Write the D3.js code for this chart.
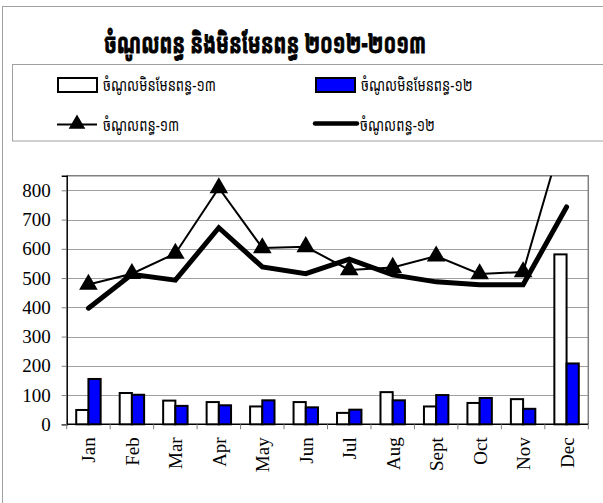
<!DOCTYPE html>
<html>
<head>
<meta charset="utf-8">
<script src="https://cdn.jsdelivr.net/npm/d3@7"></script>
<style>
  body { margin: 0; background: #fff; }
  svg { display: block; }
</style>
</head>
<body>
<div id="chart"></div>
<script>
// data
const months = ["Jan", "Feb", "Mar", "Apr", "May", "Jun", "Jul", "Aug", "Sept", "Oct", "Nov", "Dec"];
const nonTax13 = [49, 107, 81, 76, 61, 76, 39, 110, 61, 73, 86, 581];
const nonTax12 = [155, 101, 63, 65, 82, 58, 50, 82, 100, 90, 53, 208];
const tax13 = [478, 515, 584, 808, 603, 607, 528, 536, 575, 514, 521, 1030];
const tax12 = [397, 513, 493, 672, 538, 515, 565, 511, 487, 477, 477, 743];
const yTicks = [0, 100, 200, 300, 400, 500, 600, 700, 800];

const seriesNames = {
    nonTax13: "ចំណូលមិនមែនពន្ធ-១៣",
    nonTax12: "ចំណូលមិនមែនពន្ធ-១២",
    tax13: "ចំណូលពន្ធ-១៣",
    tax12: "ចំណូលពន្ធ-១២"
};
const title = "ចំណូលពន្ធ និងមិនមែនពន្ធ ២០១២-២០១៣";

const W = 603, H = 503;
const plot = { left: 66.7, right: 588.3, top: 175.7, bottom: 424.3 };
const khmerFont = "'Khmer OS Muol Light', 'Khmer OS', 'Noto Sans Khmer', 'Khmer Sangam MN', 'DejaVu Sans', sans-serif";
const serif = "'Liberation Serif', 'Times New Roman', serif";

const svg = d3.select("#chart").append("svg")
    .attr("width", W)
    .attr("height", H);

// outer frame (runs off the right and bottom edges)
svg.append("rect")
    .attr("x", 2.5).attr("y", 6.5)
    .attr("width", 700).attr("height", 600)
    .attr("fill", "#fff")
    .attr("stroke", "#a0a0a0");

// title - stretched taller like the original's heavy face
svg.append("text")
    .attr("transform", "translate(265,53) scale(1,1.4)")
    .attr("text-anchor", "middle")
    .attr("font-family", khmerFont)
    .attr("font-size", "19px")
    .attr("font-weight", "bold")
    .attr("stroke", "#000")
    .attr("stroke-width", 0.7)
    .text(title);

// legend box
const legend = svg.append("g");
legend.append("rect")
    .attr("x", 12.5).attr("y", 64.5)
    .attr("width", 700).attr("height", 76.5)
    .attr("fill", "#fff")
    .attr("stroke", "#a0a0a0");

legend.append("rect")
    .attr("x", 58).attr("y", 78)
    .attr("width", 39).attr("height", 14)
    .attr("fill", "#fff").attr("stroke", "#000").attr("stroke-width", 2);
legend.append("rect")
    .attr("x", 316).attr("y", 78)
    .attr("width", 39).attr("height", 14)
    .attr("fill", "#0000ff").attr("stroke", "#000").attr("stroke-width", 2);

legend.append("line")
    .attr("x1", 57).attr("x2", 97).attr("y1", 124.5).attr("y2", 124.5)
    .attr("stroke", "#000").attr("stroke-width", 2);
legend.append("path")
    .attr("transform", "translate(77,124)")
    .attr("d", d3.symbol(d3.symbolTriangle, 120)());
legend.append("line")
    .attr("x1", 315).attr("x2", 357).attr("y1", 123.5).attr("y2", 123.5)
    .attr("stroke", "#000").attr("stroke-width", 4.5).attr("stroke-linecap", "round");

const legendText = [
    { x: 103, y: 91, t: seriesNames.nonTax13 },
    { x: 361, y: 91, t: seriesNames.nonTax12 },
    { x: 103, y: 131, t: seriesNames.tax13 },
    { x: 360, y: 131, t: seriesNames.tax12 }
];
legend.selectAll(".lt")
    .data(legendText)
    .enter()
    .append("text")
    .attr("transform", d => `translate(${d.x},${d.y}) scale(1,1.3)`)
    .attr("font-family", khmerFont)
    .attr("font-size", "13px")
    .text(d => d.t);

// scales
const x = d3.scaleBand()
    .domain(months)
    .range([plot.left, plot.right])
    .paddingInner(0).paddingOuter(0);
const xSub = d3.scaleBand()
    .domain([0, 1])
    .range([0, x.bandwidth()])
    .paddingInner(0).paddingOuter(0.78);
const y = d3.scaleLinear()
    .domain([0, 850])
    .range([plot.bottom, plot.top]);

// gridlines
svg.append("g")
    .selectAll("line")
    .data(yTicks.slice(1))
    .enter()
    .append("line")
    .attr("x1", plot.left).attr("x2", plot.right)
    .attr("y1", d => Math.round(y(d)) + 0.5)
    .attr("y2", d => Math.round(y(d)) + 0.5)
    .attr("stroke", "#a0a0a0");

// plot area border (top + right)
svg.append("path")
    .attr("d", `M${plot.left},${plot.top}H${plot.right}V${plot.bottom}`)
    .attr("fill", "none")
    .attr("stroke", "#808080")
    .attr("stroke-width", 1.5);

// y axis
const yAxis = svg.append("g")
    .attr("transform", `translate(${plot.left},0)`)
    .call(d3.axisLeft(y).tickValues(yTicks).tickSize(5).tickPadding(11));
yAxis.attr("font-family", serif);
yAxis.select(".domain").attr("stroke", "#000").attr("stroke-width", 1.5);
yAxis.selectAll(".tick line").attr("stroke", "#808080");
yAxis.selectAll(".tick text")
    .style("font-family", serif)
    .attr("font-size", "19px")
    .attr("fill", "#000");

// x axis: ticks on the category boundaries
const xAxis = svg.append("g")
    .attr("transform", `translate(0,${plot.bottom})`);
xAxis.append("line")
    .attr("x1", plot.left).attr("x2", plot.right)
    .attr("y1", 0).attr("y2", 0)
    .attr("stroke", "#000").attr("stroke-width", 1.5);
xAxis.selectAll(".xt")
    .data(months.concat(["end"]))
    .enter()
    .append("line")
    .attr("x1", (d, i) => x.range()[0] + i * x.step())
    .attr("x2", (d, i) => x.range()[0] + i * x.step())
    .attr("y1", 0).attr("y2", 5)
    .attr("stroke", "#808080");
xAxis.selectAll(".xl")
    .data(months)
    .enter()
    .append("text")
    .attr("transform", d => `translate(${x(d) + x.bandwidth() / 2 + 7},13) rotate(-90)`)
    .attr("text-anchor", "end")
    .attr("font-family", serif)
    .attr("font-size", "19px")
    .text(d => d);

// bars
const bars = svg.append("g");
bars.selectAll(".b13")
    .data(nonTax13)
    .enter()
    .append("rect")
    .attr("x", (d, i) => x(months[i]) + xSub(0))
    .attr("y", d => y(d))
    .attr("width", xSub.bandwidth())
    .attr("height", d => plot.bottom - y(d))
    .attr("fill", "#fff")
    .attr("stroke", "#000")
    .attr("stroke-width", 2);
bars.selectAll(".b12")
    .data(nonTax12)
    .enter()
    .append("rect")
    .attr("x", (d, i) => x(months[i]) + xSub(1))
    .attr("y", d => y(d))
    .attr("width", xSub.bandwidth())
    .attr("height", d => plot.bottom - y(d))
    .attr("fill", "#0000ff")
    .attr("stroke", "#000")
    .attr("stroke-width", 2);

// clip lines to plot area
svg.append("clipPath").attr("id", "plotclip")
    .append("rect")
    .attr("x", plot.left).attr("y", plot.top)
    .attr("width", plot.right - plot.left)
    .attr("height", plot.bottom - plot.top);

const line = d3.line()
    .x((d, i) => x(months[i]) + x.bandwidth() / 2)
    .y(d => y(d));

const lines = svg.append("g").attr("clip-path", "url(#plotclip)");

lines.append("path")
    .datum(tax12)
    .attr("d", line)
    .attr("fill", "none")
    .attr("stroke", "#000")
    .attr("stroke-width", 5)
    .attr("stroke-linejoin", "miter")
    .attr("stroke-linecap", "round");

lines.append("path")
    .datum(tax13)
    .attr("d", line)
    .attr("fill", "none")
    .attr("stroke", "#000")
    .attr("stroke-width", 2);

lines.selectAll(".tri")
    .data(tax13)
    .enter()
    .append("path")
    .attr("transform", (d, i) => `translate(${x(months[i]) + x.bandwidth() / 2},${y(d)})`)
    .attr("d", d3.symbol(d3.symbolTriangle, 150)())
    .attr("fill", "#000");
</script>
</body>
</html>
